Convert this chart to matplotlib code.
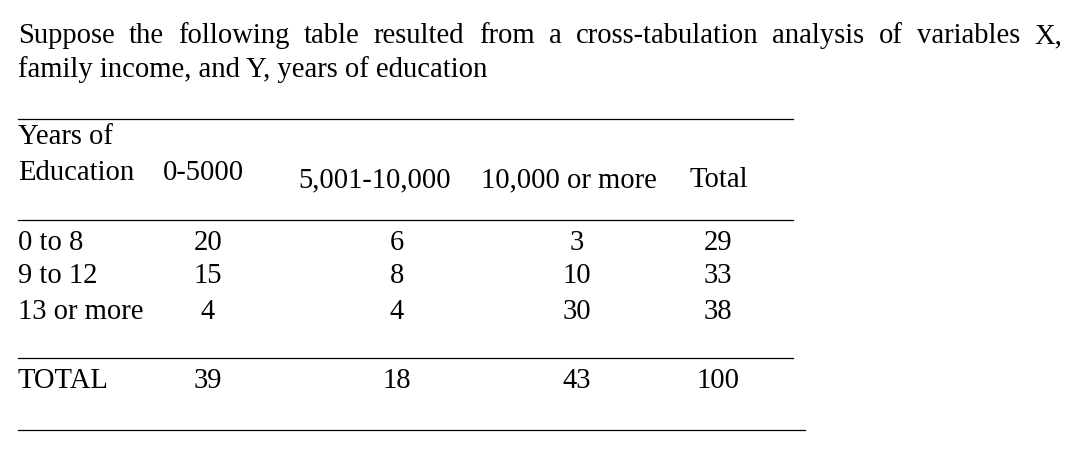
import matplotlib
matplotlib.use("Agg")
import matplotlib.pyplot as plt

W, H = 1092, 453
plt.rcParams["font.family"] = ["Liberation Serif", "DejaVu Serif"]
FS = 20.6

title_line1 = "Suppose the following table resulted from a cross-tabulation analysis of variables X,"
title_line2 = "family income, and Y, years of education"
col_headers = ["0-5000", "5,001-10,000", "10,000 or more", "Total"]
row_labels = ["0 to 8", "9 to 12", "13 or more"]
cells = [[20, 6, 3, 29], [15, 8, 10, 33], [4, 4, 30, 38]]
totals = [39, 18, 43, 100]

fig = plt.figure(figsize=(W / 100, H / 100), dpi=100)


def px(x, y):
    return x / W, 1 - y / H


def put(x, y, s, ha="left"):
    return fig.text(*px(x, y), s, fontsize=FS, ha=ha, va="center")


def hline(y, x0, x1):
    fig.add_artist(plt.Line2D([x0 / W, x1 / W], [1 - y / H] * 2, color="black", lw=0.9))


# justified first line of the question
renderer = fig.canvas.get_renderer()
words = title_line1.split()
arts = [put(0, 36, w) for w in words]
widths = [a.get_window_extent(renderer).width for a in arts]
gap = (1062 - 18 - sum(widths)) / (len(words) - 1)
x = 18
for a, w in zip(arts, widths):
    a.set_x(x / W)
    x += w + gap
put(18, 70, title_line2)

hline(119, 18, 793)
hline(220, 18, 793)
hline(358, 18, 793)
hline(430, 18, 805)

put(18, 137, "Years of")
put(18, 173, "Education")
put(163, 173, col_headers[0])
put(298, 180, col_headers[1])
put(481, 180, col_headers[2])
put(690, 180, col_headers[3])

col_x = [208, 397, 577, 718]
row_y = [243, 276, 312]
for label, vals, y in zip(row_labels, cells, row_y):
    put(18, y, label)
    for cx, v in zip(col_x, vals):
        put(cx, y, str(v), ha="center")

put(18, 381, "TOTAL")
for cx, v in zip(col_x, totals):
    put(cx, 381, str(v), ha="center")

fig.savefig("out.png", dpi=100)
